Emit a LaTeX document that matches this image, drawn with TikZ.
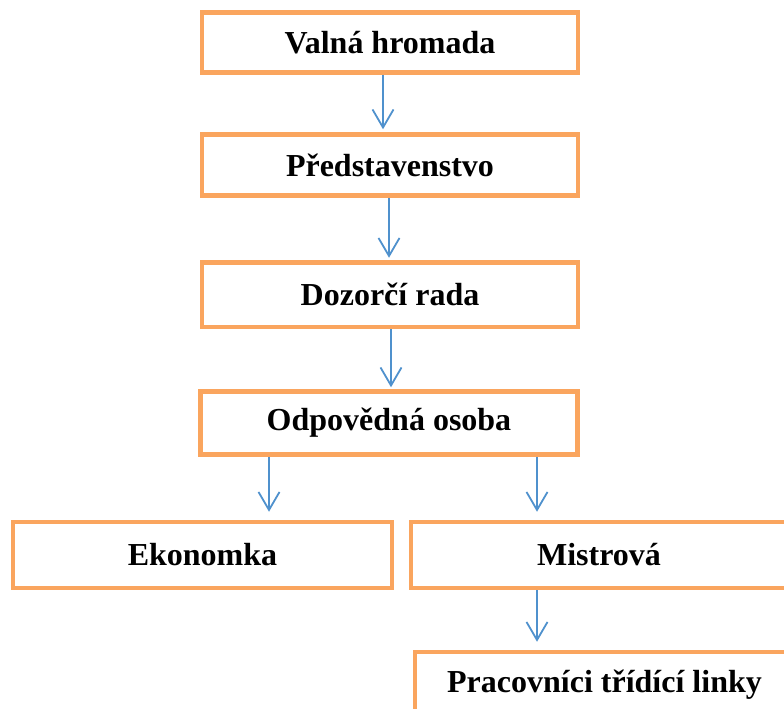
\documentclass[tikz,border=0pt]{standalone}
\usepackage{fontspec}
\setmainfont{Liberation Serif}
\usetikzlibrary{arrows.meta}
\definecolor{boxor}{RGB}{250,165,94}
\definecolor{arrbl}{RGB}{79,145,205}
\begin{document}
\begin{tikzpicture}[x=1pt,y=-1pt,
  orgbox/.style={draw=boxor, line width=4.5pt, fill=white, rectangle, inner sep=0pt,
    font=\fontsize{32}{36}\selectfont\bfseries},
  arr/.style={draw=arrbl, line width=1.8pt, -{Straight Barb[length=18pt,width=21pt,line width=1.8pt]}}]
\useasboundingbox (0,0) rectangle (784,709);
\clip (0,0) rectangle (784,709);
\node[orgbox, minimum width=376pt, minimum height=60pt] (b1) at (390,42.5) {Valná hromada};
\node[orgbox, minimum width=376pt, minimum height=61pt] (b2) at (390,165) {Představenstvo};
\node[orgbox, minimum width=376pt, minimum height=64.5pt] (b3) at (390,294.75) {Dozorčí rada};
\node[orgbox, minimum width=377pt, minimum height=63pt] (b4) at (389,423) {Odpovědná osoba};
\node[orgbox, minimum width=379pt, minimum height=66pt] (b5) at (202.5,555) {Ekonomka};
\node[orgbox, minimum width=376pt, minimum height=66pt] (b6) at (599,555) {Mistrová};
\node[orgbox, minimum width=379pt, minimum height=66pt] (b7) at (604.5,685) {Pracovníci třídící linky};
\coordinate (c1) at (383,0);
\coordinate (c2) at (389,0);
\coordinate (c3) at (391,0);
\coordinate (c4) at (269,0);
\coordinate (c5) at (537,0);
\draw[arr, shorten >=3pt] (b1.south -| c1) -- (b2.north -| c1);
\draw[arr, shorten >=2.5pt] (b2.south -| c2) -- (b3.north -| c2);
\draw[arr, shorten >=2pt] (b3.south -| c3) -- (b4.north -| c3);
\draw[arr, shorten >=8pt] (b4.south -| c4) -- (b5.north -| c4);
\draw[arr, shorten >=8pt] (b4.south -| c5) -- (b6.north -| c5);
\draw[arr, shorten >=8pt] (b6.south -| c5) -- (b7.north -| c5);
\end{tikzpicture}
\end{document}
